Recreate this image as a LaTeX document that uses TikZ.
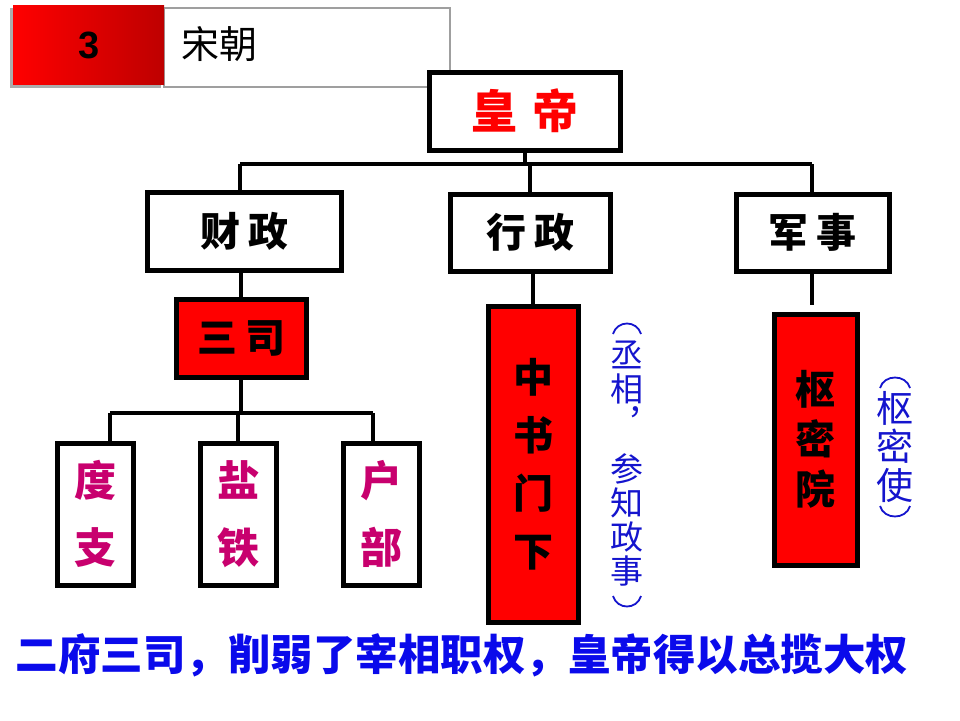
\documentclass[tikz,border=0pt]{standalone}
\usepackage{fontspec}
\setmainfont{Liberation Sans}
\newfontfamily\cjk{Noto Sans CJK SC}
\definecolor{boxred}{RGB}{255,0,0}
\definecolor{darkred}{RGB}{190,0,0}
\definecolor{mag}{RGB}{200,0,110}
\definecolor{sideblue}{RGB}{20,20,205}
\definecolor{botblue}{RGB}{10,10,235}
\begin{document}
\begin{tikzpicture}[x=1pt,y=-1pt,
  orgbox/.style={draw=black, line width=5pt, fill=white, inner sep=0pt, align=center,
    font=\cjk\bfseries\fontsize{40}{40}\selectfont},
  redbox/.style={orgbox, fill=boxred},
  tallbox/.style={orgbox, font=\cjk\bfseries\fontsize{42}{67}\selectfont, text=mag,
    minimum width=76pt, minimum height=142pt},
  conn/.style={line width=4.5pt, black},
  side/.style={inner sep=0pt, align=center, text=sideblue},
  paren/.style={draw=sideblue, line width=1.8pt},
]
\useasboundingbox (0,0) rectangle (960,720);

% header
\draw[gray!75, line width=1.5pt, fill=white] (164,8) rectangle (450,87);
\fill[gray!65] (10,8) rectangle (161,88);
\shade[left color=boxred, right color=darkred] (13,5) rectangle (164,84);
\node (num) at (89,45) {\fontsize{38}{38}\selectfont\bfseries 3};
\node[anchor=west] (title) at (178,44) {\cjk\fontsize{38}{38}\selectfont 宋朝};

% nodes
\node[orgbox, text=boxred, minimum width=191pt, minimum height=78pt,
      font=\cjk\bfseries\fontsize{46}{46}\selectfont] (huangdi) at (525,111) {皇\hspace{16pt}帝};
\node[orgbox, minimum width=194pt, minimum height=78pt] (caizheng) at (244,231) {财\hspace{8pt}政};
\node[orgbox, minimum width=160pt, minimum height=77pt] (xingzheng) at (530,232.5) {行\hspace{8pt}政};
\node[orgbox, minimum width=153pt, minimum height=77pt] (junshi) at (812.5,232.5) {军\hspace{8pt}事};
\node[redbox, minimum width=130pt, minimum height=78pt] (sansi) at (241,338) {三\hspace{8pt}司};
\node[tallbox] (duzhi) at (95,514) {度\\支};
\node[tallbox] (yantie) at (238,514) {盐\\铁};
\node[tallbox] (hubu) at (381,514) {户\\部};
\node[redbox, minimum width=90pt, minimum height=316pt,
      font=\cjk\bfseries\fontsize{40}{58}\selectfont] (zsmx) at (533,464) {中\\书\\门\\下};
\node[redbox, minimum width=83pt, minimum height=251pt,
      font=\cjk\bfseries\fontsize{40}{50}\selectfont] (smy) at (815.5,439.5) {枢\\密\\院};

% side notes
\node[side, font=\cjk\fontsize{33}{34}\selectfont] (note1) at (627,464)
  {丞\\相\\︐\\[12pt]参\\知\\政\\事};
\draw[paren] (613,334) .. controls (617,320) and (637,320) .. (641,334);
\draw[paren] (613,596) .. controls (617,610) and (637,610) .. (641,596);
\node[side, font=\cjk\fontsize{37}{38.5}\selectfont] (note2) at (895,447)
  {枢\\密\\使};
\draw[paren] (880,388) .. controls (884,374) and (906,374) .. (910,388);
\draw[paren] (880,506) .. controls (884,520) and (906,520) .. (910,506);

% summary
\node[text=botblue, font=\cjk\bfseries\fontsize{42.5}{42.5}\selectfont] (summary) at (462,655)
  {二府三司，削弱了宰相职权，皇帝得以总揽大权};

% connectors
\coordinate (busL) at (240,164);
\coordinate (busR) at (812,164);
\draw[conn] (busL) -- (busR);
\draw[conn] (huangdi.south) -- (huangdi.south |- busL);
\draw[conn] (busL) -- (busL |- caizheng.north);
\draw[conn] (xingzheng.north |- busL) -- (xingzheng.north);
\draw[conn] (busR) -- (busR |- junshi.north);
\draw[conn] (sansi.north |- caizheng.south) -- (sansi.north);
\draw[conn] (zsmx.north |- xingzheng.south) -- ([yshift=-3pt]zsmx.north);
\coordinate (smyTop) at (812,305);
\draw[conn] (busR |- junshi.south) -- (smyTop);

\coordinate (b2L) at (110,413);
\coordinate (b2M) at (238,413);
\coordinate (b2R) at (373,413);
\draw[conn] (sansi.south) -- (sansi.south |- b2L);
\draw[conn] (b2L) -- (b2R);
\draw[conn] (b2L) -- (b2L |- duzhi.north);
\draw[conn] (b2M) -- (yantie.north);
\draw[conn] (b2R) -- (b2R |- hubu.north);
\end{tikzpicture}
\end{document}
